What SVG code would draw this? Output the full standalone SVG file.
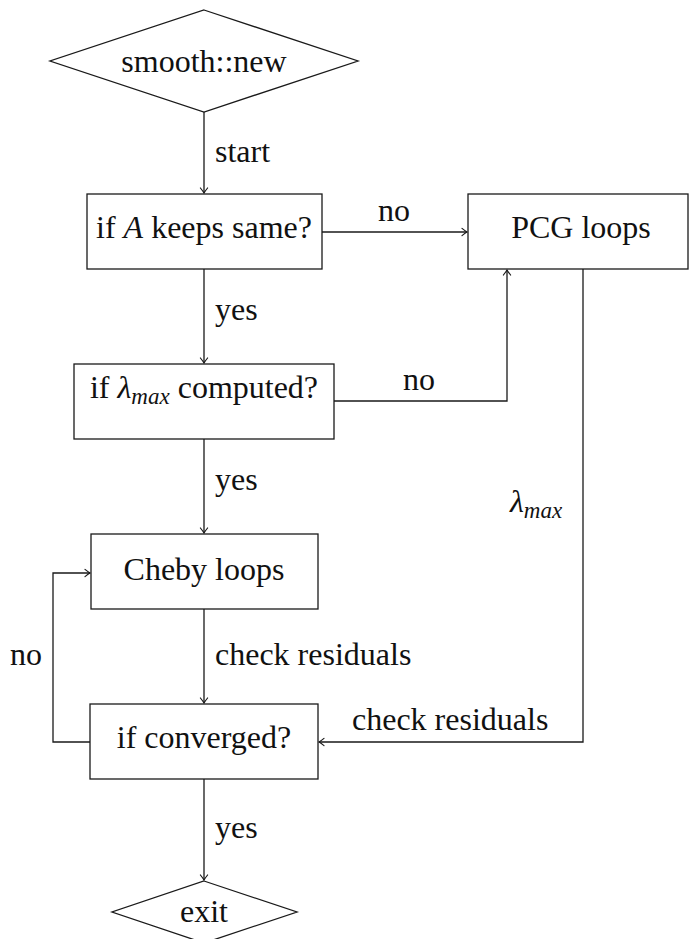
<svg xmlns="http://www.w3.org/2000/svg" width="690" height="939" viewBox="0 0 690 939">
  <style>
    .shape { fill: #ffffff; stroke: #1a1a1a; stroke-width: 1.3; }
    .wire { fill: none; stroke: #1a1a1a; stroke-width: 1.3; }
    text { font-family: "Liberation Serif", "DejaVu Serif", "Times New Roman", serif; font-size: 32px; fill: #111111; }
    .c { text-anchor: middle; }
    .m { font-style: italic; }
    .sub { font-style: italic; font-size: 23px; }
  </style>
  <defs>
    <marker id="arrow" viewBox="-6 -5 8 10" markerWidth="8" markerHeight="10" refX="0" refY="0" orient="auto" markerUnits="userSpaceOnUse">
      <path d="M-5,-3.6 Q-1.5,-0.8 0,0 Q-1.5,0.8 -5,3.6" fill="none" stroke="#1a1a1a" stroke-width="1.2" stroke-linecap="round"/>
    </marker>
  </defs>

  <!-- connectors and their labels -->
  <g id="connectors">
    <path class="wire" d="M204,112 V193" marker-end="url(#arrow)"/>
    <path class="wire" d="M322,232 H467" marker-end="url(#arrow)"/>
    <path class="wire" d="M204,269 V363" marker-end="url(#arrow)"/>
    <path class="wire" d="M334,401 H507 V270" marker-end="url(#arrow)"/>
    <path class="wire" d="M204,439 V533" marker-end="url(#arrow)"/>
    <path class="wire" d="M204,609 V703" marker-end="url(#arrow)"/>
    <path class="wire" d="M90,742 H53 V573 H90" marker-end="url(#arrow)"/>
    <path class="wire" d="M583,269 V742 H319" marker-end="url(#arrow)"/>
    <path class="wire" d="M204,779 V880" marker-end="url(#arrow)"/>

    <text x="215" y="162">start</text>
    <text x="378" y="221">no</text>
    <text x="215" y="320">yes</text>
    <text x="403" y="390">no</text>
    <text x="215" y="490">yes</text>
    <text x="510" y="512"><tspan class="m">λ</tspan><tspan class="sub" dy="6">max</tspan></text>
    <text x="10" y="665">no</text>
    <text x="215" y="665">check residuals</text>
    <text x="352" y="730">check residuals</text>
    <text x="215" y="838">yes</text>
  </g>

  <g id="start-node">
    <polygon class="shape" points="204,10 358,61 204,112 50,61"/>
    <text class="c" x="204" y="72">smooth::new</text>
  </g>

  <g id="same-matrix">
    <rect class="shape" x="87" y="194" width="235" height="75"/>
    <text class="c" x="204" y="238">if <tspan class="m">A</tspan> keeps same?</text>
  </g>

  <g id="pcg-loops">
    <rect class="shape" x="468" y="194" width="220" height="75"/>
    <text class="c" x="581" y="238">PCG loops</text>
  </g>

  <g id="lambda-check">
    <rect class="shape" x="74" y="364" width="260" height="75"/>
    <text class="c" x="204" y="398">if <tspan class="m">λ</tspan><tspan class="sub" dy="6">max</tspan><tspan dy="-6"> computed?</tspan></text>
  </g>

  <g id="cheby-loops">
    <rect class="shape" x="91" y="534" width="227" height="75"/>
    <text class="c" x="204" y="580">Cheby loops</text>
  </g>

  <g id="converged">
    <rect class="shape" x="90" y="704" width="228" height="75"/>
    <text class="c" x="204" y="748">if converged?</text>
  </g>

  <g id="exit-node">
    <polygon class="shape" points="204,881 297,912 204,943 112,912"/>
    <text class="c" x="204" y="922">exit</text>
  </g>
</svg>
